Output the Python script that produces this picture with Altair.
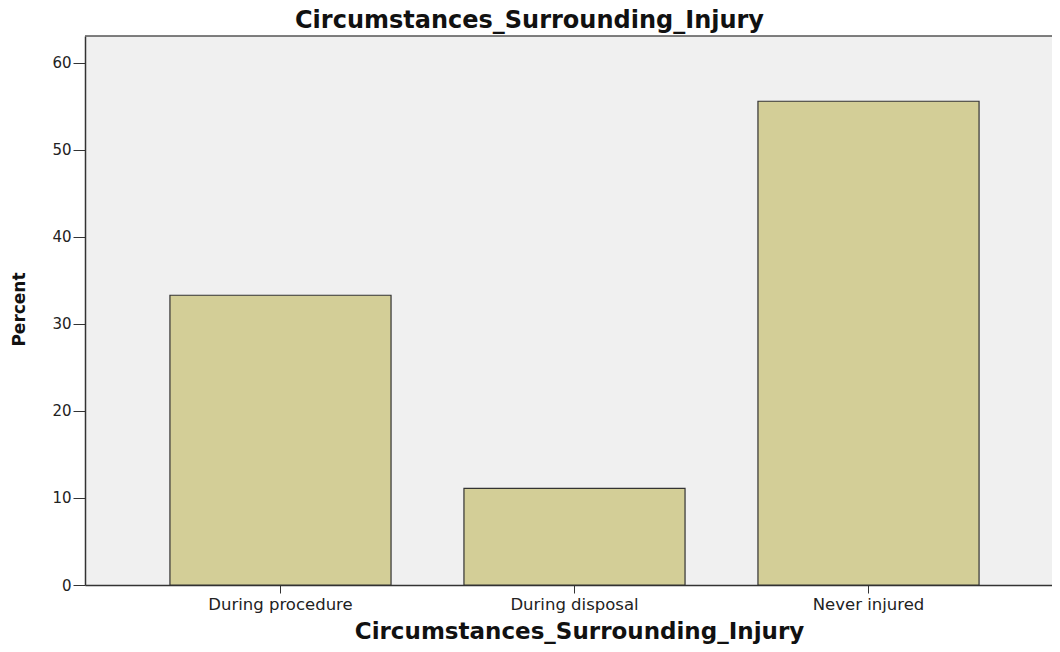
import altair as alt
import pandas as pd

categories = ["During procedure", "During disposal", "Never injured"]
percents = [33.3, 11.1, 55.6]
y_ticks = [0, 10, 20, 30, 40, 50, 60]

df = pd.DataFrame({"cat": categories, "pct": percents})

FONT = "DejaVu Sans"

bars = alt.Chart(df).mark_bar(
    fill="#d3ce97", stroke="#333333", strokeWidth=1.2
).encode(
    x=alt.X(
        "cat:N",
        sort=categories,
        scale=alt.Scale(paddingInner=0.248, paddingOuter=0.2685, align=0.538),
        axis=alt.Axis(
            title="Circumstances_Surrounding_Injury",
            labelAngle=0,
            labelFont=FONT,
            labelFontSize=16.5,
            labelColor="#222222",
            labelPadding=3,
            tickSize=8,
            tickColor="#333333",
            domainColor="#333333",
            domainWidth=1.5,
            titleFont=FONT,
            titleFontSize=23,
            titleFontWeight="bold",
            titleColor="#111111",
            titleBaseline="alphabetic",
            titleAlign="center",
            titleX=494,
            titleY=53,
        ),
    ),
    y=alt.Y(
        "pct:Q",
        scale=alt.Scale(domain=[0, 63.1], nice=False, zero=True),
        axis=alt.Axis(
            title="Percent",
            values=y_ticks,
            grid=False,
            labelFont=FONT,
            labelFontSize=15,
            labelColor="#222222",
            labelPadding=2,
            tickSize=12,
            tickColor="#333333",
            domainColor="#333333",
            domainWidth=1.5,
            titleFont=FONT,
            titleFontSize=17,
            titleFontWeight="bold",
            titleColor="#111111",
            titleX=-57,
            titleY=273,
        ),
    ),
)

top_border = alt.Chart(pd.DataFrame({"a": [0]})).mark_rule(
    color="#555555", strokeWidth=1.5
).encode(y=alt.value(0))

chart = alt.layer(bars, top_border).properties(
    width=967,
    height=549,
    background="white",
    autosize=alt.AutoSizeParams(type="none"),
    padding={"left": 77, "top": 28, "right": 0, "bottom": 59},
    title=alt.TitleParams(
        "Circumstances_Surrounding_Injury",
        font=FONT,
        fontSize=24,
        fontWeight="bold",
        color="#111111",
        anchor="middle",
        baseline="alphabetic",
        offset=-17,
        dx=-39,
    ),
).configure_view(
    fill="#f0f0f0", stroke=None
)

chart.save("out.html", embed_options={"renderer": "svg", "actions": False})
